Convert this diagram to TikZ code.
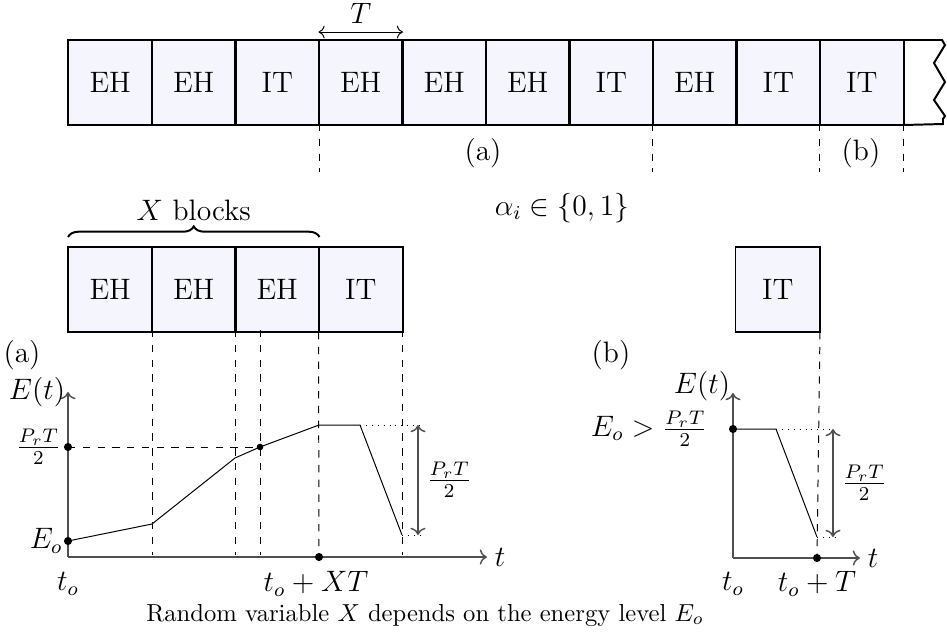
\documentclass[tikz,border=0pt]{standalone}
\usetikzlibrary{decorations.pathreplacing,arrows.meta}
\definecolor{boxfill}{RGB}{245,245,253}
\definecolor{axisgray}{RGB}{80,80,80}
\begin{document}
\begin{tikzpicture}[x=0.4062pt,y=-0.4062pt,
  every node/.style={font=\large},
  blk/.style={fill=boxfill,minimum width=33.92pt,minimum height=34.12pt,inner sep=0pt,anchor=north west},
  blkline/.style={thick},
  guide/.style={dashed,thin},
  axisline/.style={draw=axisgray,semithick},
  curve/.style={thin},
  dot/.style={circle,fill,inner sep=0pt,minimum size=3.3pt},
  smalldot/.style={circle,fill,inner sep=0pt,minimum size=2.7pt},
  dotline/.style={dotted,thin}]
\useasboundingbox (0,0) rectangle (947,635);
% ---------- top row ----------
\foreach \i/\lab in {1/EH,2/EH,3/IT,4/EH,5/EH,6/EH,7/IT,8/EH,9/IT,10/IT}{
  \node[blk] (t\i) at ({68+(\i-1)*83.5},40) {\lab};
}
\foreach \i in {1,...,10}{
  \draw[blkline] (t\i.north west) rectangle (t\i.south east);
}
\draw[thick] (t10.north east) -- (942,40) -- (945,45) -- (934,63) -- (945,82) -- (934,100) -- (945,116) -- (943,119) -- (943,124) -- (t10.south east);
\path (t4.north west) ++(0,-8) coordinate (ta) (t4.north east) ++(0,-8) coordinate (tb);
\draw[<->] (ta) -- node[above=0pt] {$T$} (tb);
\foreach \x in {319,652,819,903}{
  \draw[guide] (\x,124) -- (\x,172);
}
\node (la) at (483,153) {(a)};
\node (lb) at (861,153) {(b)};
\node (alpha) at (562,208) {$\alpha_i\in\{0,1\}$};
% ---------- bottom row ----------
\foreach \i/\lab in {1/EH,2/EH,3/EH,4/IT}{
  \node[blk] (b\i) at ({68+(\i-1)*83.5},247) {\lab};
}
\node[blk] (r1) at (735.5,247) {IT};
\foreach \n in {b1,b2,b3,b4,r1}{
  \draw[blkline] (\n.north west) rectangle (\n.south east);
}
\path (b1.north west) ++(0,-10) coordinate (br1) (b3.north east) ++(0,-10) coordinate (br2);
\draw[thick,decorate,decoration={brace,amplitude=4.3pt}] (br1) -- node[above=3pt] (xb) {$X$ blocks} (br2);
\node (pa) at (22,355) {(a)};
\node (pb) at (611,355) {(b)};
% ---------- left graph ----------
\coordinate (O) at (68,557);
\coordinate (Ytop) at (68,392);
\coordinate (Xend) at (487,557);
\coordinate (p0) at (68,541);
\coordinate (p1) at (152,524);
\coordinate (p2) at (235,458);
\coordinate (p3) at (260,447);
\coordinate (p4) at (319,425);
\coordinate (p5) at (360,425);
\coordinate (p6) at (402,535);
\coordinate (ph) at (68,447);
\coordinate (pxt) at (319,557);
\foreach \x in {152,235,260,402}{
  \draw[guide] (\x,330) -- (\x,555);
}
\draw[guide] (b4.south west) -- (pxt);
\draw[guide] (ph) -- (p3);
\draw[axisline,->] (O) -- (Ytop);
\draw[axisline,->] (O) -- (Xend);
\draw[curve] (p0) -- (p1) -- (p2) -- (p3) -- (p4) -- (p5) -- (p6);
\coordinate (d1) at (420,425);
\coordinate (d2) at (420,535);
\draw[dotline] (p5) -- (d1);
\draw[dotline] (p6) -- (d2);
\coordinate (a1) at (418,425);
\coordinate (a2) at (418,535);
\draw[axisline,<->] (a1) -- node[right=0pt] {$\frac{P_rT}{2}$} (a2);
\node[dot] at (p0) {};
\node[dot] at (ph) {};
\node[smalldot] at (p3) {};
\node[dot] at (pxt) {};
\node[anchor=east,inner sep=1pt] (Et1) at (68,392) {$E(t)$};
\node[anchor=east,inner sep=2pt] (fr1) at (66,447) {$\frac{P_rT}{2}$};
\node[anchor=east,inner sep=2pt] (eo1) at (68,541) {$E_o$};
\node[anchor=west,inner sep=3pt] (tt1) at (Xend) {$t$};
\node (to1) at (68,584) {$t_o$};
\node (txt) at (316,584) {$t_o+XT$};
\node[font=\normalsize] (cap) at (425,615) {Random variable $X$ depends on the energy level $E_o$};
% ---------- right graph ----------
\coordinate (O2) at (733,558);
\coordinate (Ytop2) at (733,393);
\coordinate (Xend2) at (860,558);
\coordinate (q0) at (733,429);
\coordinate (q1) at (776,429);
\coordinate (q2) at (817,537);
\coordinate (qt) at (817,558);
\draw[guide] (r1.south east) -- (qt);
\draw[axisline,->] (O2) -- (Ytop2);
\draw[axisline,->] (O2) -- (Xend2);
\draw[curve] (q0) -- (q1) -- (q2);
\coordinate (e1) at (835,429);
\coordinate (e2) at (835,537);
\draw[dotline] (q1) -- (e1);
\draw[dotline] (q2) -- (e2);
\coordinate (c1) at (833,429);
\coordinate (c2) at (833,537);
\draw[axisline,<->] (c1) -- node[right=0pt] {$\frac{P_rT}{2}$} (c2);
\node[dot] at (q0) {};
\node[dot] at (qt) {};
\node[anchor=east,inner sep=1pt] (Et2) at (733,386) {$E(t)$};
\node[anchor=east,inner sep=1pt] (eo2) at (710,429) {$E_o>\frac{P_rT}{2}$};
\node[anchor=west,inner sep=3pt] (tt2) at (Xend2) {$t$};
\node (to2) at (733,584) {$t_o$};
\node (tt) at (817,584) {$t_o+T$};
\end{tikzpicture}
\end{document}
